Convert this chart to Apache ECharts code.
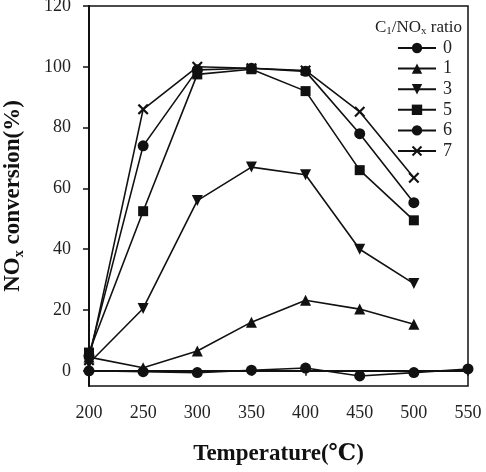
<!DOCTYPE html>
<html>
<head>
<meta charset="utf-8">
<script src="https://cdn.jsdelivr.net/npm/echarts@6/dist/echarts.min.js"></script>
<style>
  html, body { margin: 0; padding: 0; background: #fff; }
  #chart { width: 486px; height: 472px; }
</style>
</head>
<body>
<div id="chart"></div>
<script>
// 温度 (℃)
const temps = [200, 250, 300, 350, 400, 450, 500, 550];
const yTicks = [0, 20, 40, 60, 80, 100, 120];

// NOx conversion (%) for each C1/NOx ratio
const ratioNames = ['0', '1', '3', '5', '6', '7'];
const ratio0 = [0, -0.3, -0.6, 0.2, 0.9, -1.7, -0.6, 0.6];
const ratio1 = [4.5, 1, 6.5, 16, 23.2, 20.3, 15.3];
const ratio3 = [2.5, 20.5, 56, 67, 64.5, 40, 28.7];
const ratio5 = [6, 52.5, 97.5, 99.2, 92, 66, 49.5];
const ratio6 = [5, 74, 99, 99.5, 98.5, 78, 55.3];
const ratio7 = [3.5, 86, 100, 99.5, 98.8, 85.2, 63.5];

const FONT = '"Liberation Serif", "DejaVu Serif", serif';
const CROSS = 'path://M0,1.4L1.4,0L5,3.6L8.6,0L10,1.4L6.4,5L10,8.6L8.6,10L5,6.4L1.4,10L0,8.6L3.6,5Z';

const seriesDefs = [
  { data: ratio0, symbol: 'circle', size: 11 },
  { data: ratio1, symbol: 'triangle', size: 11 },
  { data: ratio3, symbol: 'triangle', size: 11, rotate: 180 },
  { data: ratio5, symbol: 'rect', size: 10 },
  { data: ratio6, symbol: 'circle', size: 11 },
  { data: ratio7, symbol: CROSS, size: 11 }
];

const chart = echarts.init(document.getElementById('chart'));

chart.setOption({
  animation: false,
  backgroundColor: '#fff',
  textStyle: { fontFamily: FONT, color: '#222' },
  title: {
    text: '{a|C}{s|1}{a|/NO}{s|x}{a| ratio}',
    left: 370,
    top: 13,
    textStyle: {
      rich: {
        a: { fontFamily: FONT, fontSize: 17, fontWeight: 'normal', color: '#222' },
        s: { fontFamily: FONT, fontSize: 11, fontWeight: 'normal', color: '#222', verticalAlign: 'bottom', padding: [8, 0, 0, 0] }
      }
    }
  },
  legend: {
    orient: 'vertical',
    left: 392,
    top: 34,
    itemWidth: 38,
    itemHeight: 13,
    itemGap: 2.6,
    textStyle: { fontFamily: FONT, fontSize: 18, color: '#222', padding: [0, 0, 0, 2] },
    data: ratioNames
  },
  grid: {
    left: 89, right: 18, top: 6, bottom: 86,
    containLabel: false,
    outerBoundsMode: 'none',
    show: true, borderColor: '#111', borderWidth: 1.5
  },
  xAxis: {
    type: 'value',
    min: 200, max: 550, interval: 50,
    name: 'Temperature(℃)',
    nameLocation: 'middle',
    nameGap: 57,
    nameTextStyle: { fontFamily: FONT, fontSize: 23, fontWeight: 'bold', color: '#111' },
    axisLine: { lineStyle: { color: '#111', width: 2 } },
    axisTick: { inside: false, length: 5, lineStyle: { color: '#111', width: 1.5 } },
    axisLabel: { fontFamily: FONT, fontSize: 18, color: '#222', margin: 18 },
    splitLine: { show: false }
  },
  yAxis: {
    type: 'value',
    min: -5, max: 120,
    name: '{a|NO}{s|x}{a| conversion(%)}',
    nameLocation: 'middle',
    nameGap: 63,
    nameRotate: 90,
    nameTextStyle: {
      rich: {
        a: { fontFamily: FONT, fontSize: 23, fontWeight: 'bold', color: '#111' },
        s: { fontFamily: FONT, fontSize: 14, fontWeight: 'bold', color: '#111', verticalAlign: 'bottom', padding: [11, 0, 0, 0] }
      }
    },
    axisLine: { lineStyle: { color: '#111', width: 2 } },
    axisTick: { inside: false, length: 6, customValues: yTicks, lineStyle: { color: '#111', width: 1.5 } },
    axisLabel: { fontFamily: FONT, fontSize: 18, color: '#222', margin: 18, customValues: yTicks },
    splitLine: { show: false }
  },
  series: seriesDefs.map((s, i) => ({
    name: ratioNames[i],
    type: 'line',
    data: s.data.map((v, j) => [temps[j], v]),
    symbol: s.symbol,
    symbolSize: s.size,
    symbolRotate: s.rotate || 0,
    showAllSymbol: true,
    lineStyle: { color: '#111', width: 1.6 },
    itemStyle: { color: '#111', borderColor: '#111', borderWidth: 0 },
    z: 2 + i
  }))
});
</script>
</body>
</html>
